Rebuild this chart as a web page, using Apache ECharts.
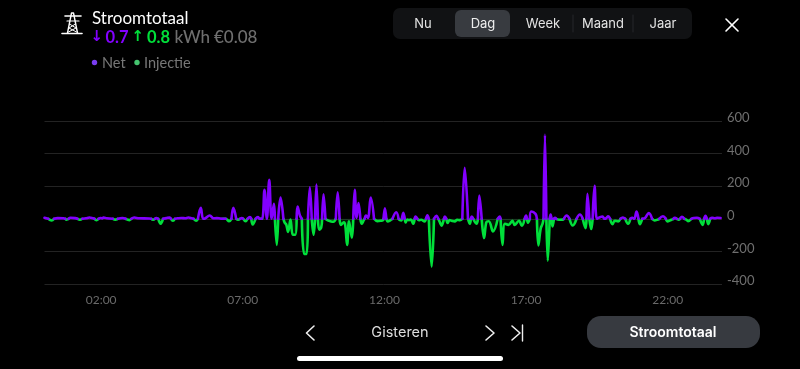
<!DOCTYPE html>
<html>
<head>
<meta charset="utf-8">
<style>html,body{margin:0;padding:0;background:#000;}#c{width:800px;height:369px;}</style>
<script src="https://cdn.jsdelivr.net/npm/echarts@6/dist/echarts.min.js"></script>
</head>
<body>
<div id="c"></div>
<script>
// minutes since midnight
const times = [
0,8,15,20,28,40,44,47,51,55,
65,70,75,80,88,95,103,106,110,114,
119,122,125,132,145,150,155,165,172,180,
184,190,200,222,226,230,234,237,241,246,
251,258,265,268,272,276,282,290,298,305,
312,316,321,325,331,336,340,350,358,365,
372,378,384,391,396,400,406,410,414,418,
421,426,430,435,438,441,447,452,456,461,
466,471,476,481,486,488,492,495,500,506,
509,512,516,521,526,531,534,536,541,545,
550,555,558,562,566,570,573,576,579,582,
586,588,591,595,600,607,612,617,621,625,
628,634,637,641,645,651,654,657,661,665,
669,672,676,678,681,685,691,698,705,712,
717,718,721,724,727,733,737,745,750,753,
756,757,760,763,765,768,772,776,781,784,
786,790,793,798,805,808,811,814,820,825,
830,834,838,841,846,848,851,854,858,862,
869,874,880,885,890,897,901,903,905,908,
915,918,921,926,931,936,941,950,960,964,
966,970,975,983,991,996,1005,1011,1017,1020,
1022,1024,1028,1031,1040,1043,1046,1051,1055,1057,
1060,1063,1066,1070,1072,1074,1076,1079,1081,1084,
1090,1098,1100,1106,1112,1119,1127,1134,1140,1146,
1148,1150,1154,1158,1161,1165,1170,1175,1182,1186,
1190,1194,1198,1203,1208,1215,1220,1225,1230,1236,
1241,1245,1249,1254,1258,1261,1266,1272,1280,1287,
1292,1298,1302,1310,1316,1320,1328,1332,1335,1339,
1343,1346,1350,1355,1360,1363,1370,1375,1382,1388,
1394,1397,1400,1403,1406,1410,1414,1420,1425,1432
];
// watts: positive = net, negative = injectie
const power = [
6,0,-10,0,4,3,0,-5,0,6,
4,0,-6,0,3,8,3,0,-8,0,
5,2,8,3,0,-5,0,5,0,-8,
0,8,3,2,0,-6,0,4,0,-30,
0,4,8,0,-12,0,3,5,3,8,
3,0,-12,0,67,0,2,20,3,4,
2,0,0,-15,0,67,0,-6,0,4,
0,-15,0,10,0,-35,0,10,0,0,
178,0,239,0,92,0,-160,0,130,0,
-25,-35,-80,-5,-98,-98,0,75,20,0,
-216,-216,0,194,0,-98,0,210,0,-67,
-55,0,151,0,-10,-16,-18,0,163,0,
-37,-22,-40,-160,-15,-116,0,178,5,96,
0,-30,-10,0,20,5,130,0,-14,-12,
-8,0,65,0,-16,-8,0,40,0,-8,
-10,0,37,0,-22,-5,-8,-5,-30,0,
14,0,-8,-6,-16,0,22,0,-294,0,
18,0,-25,-42,0,14,0,-26,-8,-12,
-16,-6,-8,0,313,0,-30,0,14,0,
-30,0,143,0,-118,-20,-15,-77,0,14,
0,-160,-30,-37,-12,-37,-12,-43,0,20,
0,-24,0,45,30,0,-163,-60,-30,0,
515,0,-258,0,26,0,-47,0,6,0,
-6,-5,0,20,0,-41,0,26,0,-57,
0,153,0,-63,0,202,0,8,14,0,
4,16,0,-33,-12,-16,0,8,0,-30,
0,6,0,45,0,-33,0,5,35,0,
-10,-6,0,16,0,-16,-6,0,6,0,
-5,0,12,0,-6,-14,0,5,6,0,
-37,0,18,0,-33,0,6,3,6,5
];
const timeTicks = [120, 420, 720, 1020, 1320];
const seriesNames = ['Net', 'Injectie'];
const tabs = ['Nu', 'Dag', 'Week', 'Maand', 'Jaar'];
const tabCenters = [423, 483, 543, 603, 663];

const netData = times.map((t, i) => [t, power[i] >= 0 ? power[i] : null]);
const injData = times.map((t, i) => [t, power[i] <= 0 ? power[i] : null]);

const PURPLE = '#8300ff', GREEN = '#00e03a', GRAY = '#6f6f6f';
const LATO = 'Lato, "Open Sans", sans-serif', INTER = 'Inter, Roboto, sans-serif';
const txt = (x, y, text, fill, size, family, extra) => ({
  type: 'text', x, y, silent: true,
  style: Object.assign({ text, fill, font: (extra && extra.weight || 400) + ' ' + size + 'px ' + family, textVerticalAlign: 'middle', textAlign: (extra && extra.align) || 'left' })
});
const poly = (points, stroke, lineWidth) => ({
  type: 'polyline', silent: true, shape: { points },
  style: { stroke, lineWidth: lineWidth || 1.5, fill: null, lineCap: 'round', lineJoin: 'round' }
});
const box = (x, y, width, height, r, fill) => ({
  type: 'rect', silent: true, shape: { x, y, width, height, r }, style: { fill }
});
const dot = (cx, cy, r, fill) => ({ type: 'circle', silent: true, shape: { cx, cy, r }, style: { fill } });

const graphics = [
  // pylon icon
  poly([[62, 33.5], [82, 33.5]], '#fff', 1.6),
  poly([[65, 16], [81, 16]], '#fff', 1.6),
  poly([[67, 21], [79, 21]], '#fff', 1.2),
  poly([[67.5, 33], [71.5, 13], [73.5, 13], [77.5, 33]], '#fff', 1.4),
  poly([[69.5, 24], [76, 28], [68.5, 32]], '#fff', 1),
  poly([[75.5, 24], [69, 28], [76.5, 32]], '#fff', 1),
  // header
  txt(92, 18.5, 'Stroomtotaal', '#fff', 17, LATO),
  txt(90.5, 37.5, '↓', PURPLE, 15, '"DejaVu Sans"', { weight: 700 }),
  txt(105.5, 37.5, '0.7', PURPLE, 16.5, LATO, { weight: 700 }),
  txt(131.5, 37.5, '↑', GREEN, 15, '"DejaVu Sans"', { weight: 700 }),
  txt(147, 37.5, '0.8', GREEN, 16.5, LATO, { weight: 700 }),
  txt(174.5, 37.5, 'kWh', GRAY, 17, LATO, { weight: 500 }),
  txt(214, 37.5, '€0.08', GRAY, 17, LATO, { weight: 500 }),
  // legend
  dot(94.5, 62.5, 2.7, '#7a3df0'),
  txt(102, 63, seriesNames[0], '#777', 14.5, LATO),
  dot(137, 62.5, 2.7, '#45c46f'),
  txt(144, 63, seriesNames[1], '#777', 14.5, LATO),
  // tabs
  box(393, 8, 299, 31, 7, '#111214'),
  box(455, 10, 55, 27, 6, '#383b40'),
  poly([[573, 15], [573, 32]], '#26272a', 1),
  poly([[633, 15], [633, 32]], '#26272a', 1),
  ...tabs.map((t, i) => txt(tabCenters[i], 24, t, i === 1 ? '#eee' : '#e4e4e4', 13, INTER, { align: 'center' })),
  poly([[726, 19], [738, 31]], '#fff', 1.6),
  poly([[738, 19], [726, 31]], '#fff', 1.6),
  // bottom navigation
  poly([[314, 326], [306.5, 333], [314, 340]], '#eee', 1.6),
  txt(400, 333, 'Gisteren', '#ddd', 14.5, INTER, { align: 'center' }),
  poly([[486, 326], [494, 333], [486, 340]], '#eee', 1.6),
  poly([[512, 326], [520, 333], [512, 340]], '#eee', 1.6),
  poly([[522.5, 325], [522.5, 341]], '#eee', 1.4),
  box(587, 316, 173, 32, 14, '#373a40'),
  txt(673, 333, 'Stroomtotaal', '#fff', 14, INTER, { weight: 600, align: 'center' }),
  box(297, 356, 206, 5, 2.5, '#fff')
];

const fmtTime = v => String(Math.floor(v / 60)).padStart(2, '0') + ':' + String(v % 60).padStart(2, '0');

const chart = echarts.init(document.getElementById('c'), null, { renderer: 'canvas' });
chart.setOption({
  backgroundColor: '#000',
  animation: false,
  grid: { left: 44.5, top: 121, width: 677.5, height: 163, containLabel: false },
  xAxis: {
    type: 'value', min: 0, max: 1435,
    splitLine: { show: false }, axisLine: { show: false }, axisTick: { show: false },
    axisLabel: {
      customValues: timeTicks, formatter: fmtTime,
      color: '#6a6a6a', fontFamily: LATO, fontSize: 12, margin: 10
    }
  },
  yAxis: {
    type: 'value', min: -400, max: 600, interval: 200, position: 'right',
    splitLine: { lineStyle: { color: '#232323', width: 1 } },
    axisLine: { show: false }, axisTick: { show: false },
    axisLabel: { color: '#6f6f6f', fontFamily: LATO, fontSize: 13, margin: 5, align: 'left', verticalAlign: 'bottom', lineHeight: 6 }
  },
  series: [
    {
      name: seriesNames[1], type: 'line', data: injData, smooth: 0.4, showSymbol: false, connectNulls: false,
      lineStyle: { color: GREEN, width: 2.6, join: 'round', cap: 'round' }, itemStyle: { color: GREEN },
      areaStyle: { color: GREEN, opacity: 0.12, origin: 0 }, z: 2
    },
    {
      name: seriesNames[0], type: 'line', data: netData, smooth: 0.4, showSymbol: false, connectNulls: false,
      lineStyle: { color: PURPLE, width: 2.6, join: 'round', cap: 'round' }, itemStyle: { color: PURPLE }, z: 3
    }
  ],
  graphic: { elements: graphics }
});
</script>
</body>
</html>
